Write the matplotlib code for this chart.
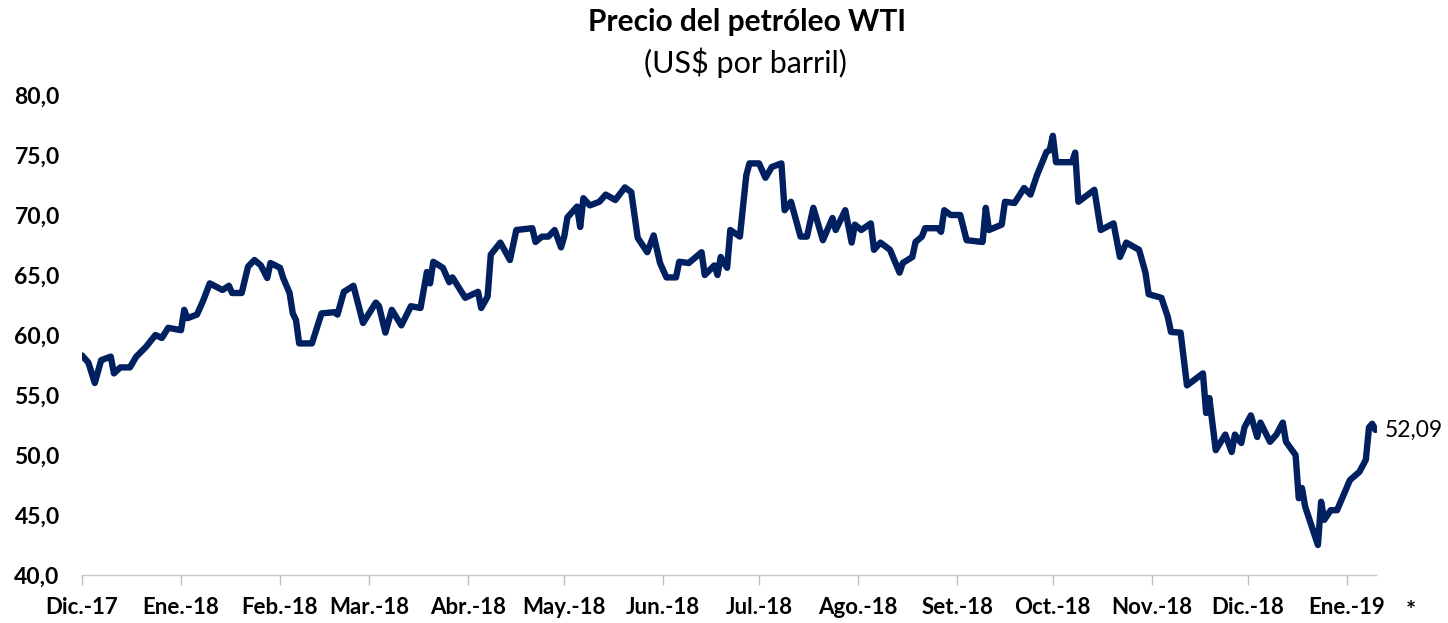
import numpy as np
import pandas as pd
import matplotlib
matplotlib.use("Agg")
import matplotlib.pyplot as plt
import matplotlib.dates as mdates

# Precio WTI (US$ por barril)
fechas = ["2017-12-01", "2017-12-03", "2017-12-05", "2017-12-07", "2017-12-10",
          "2017-12-11", "2017-12-13", "2017-12-16", "2017-12-18", "2017-12-21",
          "2017-12-24", "2017-12-26", "2017-12-28", "2018-01-01", "2018-01-02",
          "2018-01-03", "2018-01-06", "2018-01-08", "2018-01-10", "2018-01-14",
          "2018-01-16", "2018-01-17", "2018-01-20", "2018-01-22", "2018-01-24",
          "2018-01-26", "2018-01-28", "2018-01-29", "2018-02-01", "2018-02-02",
          "2018-02-04", "2018-02-05", "2018-02-06", "2018-02-07", "2018-02-11",
          "2018-02-14", "2018-02-18", "2018-02-19", "2018-02-21", "2018-02-24",
          "2018-02-27", "2018-03-03", "2018-03-04", "2018-03-06", "2018-03-08",
          "2018-03-11", "2018-03-14", "2018-03-17", "2018-03-19", "2018-03-20",
          "2018-03-21", "2018-03-24", "2018-03-26", "2018-03-27", "2018-03-31",
          "2018-04-04", "2018-04-05", "2018-04-07", "2018-04-08", "2018-04-11",
          "2018-04-14", "2018-04-16", "2018-04-21", "2018-04-22", "2018-04-24",
          "2018-04-26", "2018-04-28", "2018-04-30", "2018-05-01", "2018-05-02",
          "2018-05-05", "2018-05-06", "2018-05-07", "2018-05-09", "2018-05-12",
          "2018-05-14", "2018-05-17", "2018-05-20", "2018-05-22", "2018-05-24",
          "2018-05-27", "2018-05-29", "2018-05-31", "2018-06-02", "2018-06-05",
          "2018-06-06", "2018-06-09", "2018-06-13", "2018-06-14", "2018-06-17",
          "2018-06-18", "2018-06-19", "2018-06-21", "2018-06-22", "2018-06-25",
          "2018-06-27", "2018-06-28", "2018-07-01", "2018-07-03", "2018-07-05",
          "2018-07-08", "2018-07-09", "2018-07-11", "2018-07-14", "2018-07-16",
          "2018-07-18", "2018-07-21", "2018-07-24", "2018-07-25", "2018-07-28",
          "2018-07-30", "2018-07-31", "2018-08-02", "2018-08-05", "2018-08-06",
          "2018-08-08", "2018-08-11", "2018-08-14", "2018-08-15", "2018-08-18",
          "2018-08-19", "2018-08-21", "2018-08-22", "2018-08-26", "2018-08-27",
          "2018-08-28", "2018-08-30", "2018-09-02", "2018-09-04", "2018-09-09",
          "2018-09-10", "2018-09-11", "2018-09-15", "2018-09-16", "2018-09-19",
          "2018-09-22", "2018-09-24", "2018-09-26", "2018-09-29", "2018-09-30",
          "2018-10-01", "2018-10-02", "2018-10-07", "2018-10-08", "2018-10-09",
          "2018-10-12", "2018-10-14", "2018-10-16", "2018-10-20", "2018-10-22",
          "2018-10-24", "2018-10-28", "2018-10-30", "2018-10-31", "2018-11-04",
          "2018-11-06", "2018-11-07", "2018-11-10", "2018-11-12", "2018-11-17",
          "2018-11-18", "2018-11-19", "2018-11-21", "2018-11-24", "2018-11-26",
          "2018-11-27", "2018-11-29", "2018-11-30", "2018-12-02", "2018-12-04",
          "2018-12-05", "2018-12-08", "2018-12-10", "2018-12-12", "2018-12-13",
          "2018-12-16", "2018-12-17", "2018-12-18", "2018-12-19", "2018-12-23",
          "2018-12-24", "2018-12-25", "2018-12-27", "2018-12-29", "2019-01-02",
          "2019-01-05", "2019-01-07", "2019-01-08", "2019-01-09", "2019-01-10"]

precios = [58.3, 57.7, 56.0, 57.9, 58.2,
           56.8, 57.3, 57.3, 58.2, 59.0,
           60.0, 59.75, 60.6, 60.4, 62.1,
           61.4, 61.7, 62.9, 64.3, 63.75,
           64.1, 63.5, 63.5, 65.7, 66.25,
           65.8, 64.75, 66.0, 65.6, 64.75,
           63.5, 61.8, 61.25, 59.3, 59.3,
           61.8, 61.9, 61.7, 63.6, 64.1,
           61.0, 62.7, 62.4, 60.2, 62.1,
           60.8, 62.4, 62.25, 65.25, 64.3,
           66.1, 65.6, 64.4, 64.8, 63.1,
           63.6, 62.25, 63.2, 66.7, 67.7,
           66.25, 68.75, 68.9, 67.75, 68.2,
           68.2, 68.75, 67.3, 68.2, 69.8,
           70.7, 69.0, 71.4, 70.8, 71.1,
           71.7, 71.25, 72.3, 71.9, 68.1,
           66.9, 68.3, 66.0, 64.8, 64.8,
           66.1, 66.0, 66.9, 65.0, 65.8,
           65.0, 66.5, 65.6, 68.75, 68.2,
           73.3, 74.3, 74.3, 73.1, 74.0,
           74.3, 70.4, 71.1, 68.2, 68.2,
           70.6, 67.9, 69.75, 68.75, 70.4,
           67.7, 69.2, 68.75, 69.3, 67.1,
           67.7, 67.1, 65.2, 66.0, 66.5,
           67.75, 68.2, 68.9, 68.9, 68.6,
           70.4, 70.0, 70.0, 67.9, 67.75,
           70.6, 68.75, 69.2, 71.1, 71.0,
           72.25, 71.7, 73.3, 75.25, 75.4,
           76.6, 74.4, 74.4, 75.2, 71.1,
           71.7, 72.1, 68.75, 69.3, 66.5,
           67.7, 67.1, 65.2, 63.4, 63.1,
           61.5, 60.25, 60.2, 55.8, 56.8,
           53.5, 54.75, 50.4, 51.7, 50.25,
           51.7, 51.0, 52.3, 53.3, 51.5,
           52.7, 51.1, 51.7, 52.7, 51.1,
           50.0, 46.4, 47.25, 45.7, 42.5,
           46.1, 44.6, 45.4, 45.4, 47.9,
           48.6, 49.6, 52.3, 52.6, 52.09]

meses = ["Dic.-17", "Ene.-18", "Feb.-18", "Mar.-18", "Abr.-18", "May.-18",
         "Jun.-18", "Jul.-18", "Ago.-18", "Set.-18", "Oct.-18", "Nov.-18",
         "Dic.-18", "Ene.-19"]
inicio_meses = pd.date_range("2017-12-01", periods=len(meses), freq="MS")

fechas = pd.to_datetime(fechas)
azul = "#002060"
fuente = "Lato"

fig = plt.figure(figsize=(14.48, 6.23), dpi=100)
ax = fig.add_axes([82 / 1448, 1 - 575 / 623, (1377 - 82) / 1448, (575 - 95) / 623])

ax.plot(fechas, precios, color=azul, lw=4.6, solid_joinstyle="round",
        solid_capstyle="round", zorder=3)

# etiqueta del ultimo dato
ax.annotate(("%.2f" % precios[-1]).replace(".", ","), (fechas[-1], precios[-1]),
            xytext=(7, 0), textcoords="offset points", va="center", ha="left",
            fontsize=16.5, family=fuente, color="black", annotation_clip=False)

ax.set_xlim(pd.Timestamp("2017-12-01"), pd.Timestamp("2019-01-10 12:00"))
ax.set_ylim(40, 80)

# eje y
ax.set_yticks(np.arange(40, 81, 5))
ax.set_yticklabels([("%.1f" % v).replace(".", ",") for v in np.arange(40, 81, 5)],
                   fontsize=16.5, fontweight="bold", family=fuente)
ax.tick_params(axis="y", length=0, pad=16)

# eje x
ax.set_xticks(inicio_meses)
ax.set_xticklabels(meses, fontsize=16, fontweight="bold", family=fuente)
ax.tick_params(axis="x", length=7, width=1, color="#bfbfbf", pad=9)

for s in ["left", "right", "top"]:
    ax.spines[s].set_visible(False)
ax.spines["bottom"].set_color("#c8c8c8")
ax.spines["bottom"].set_linestyle((0, (2, 1)))
ax.spines["bottom"].set_linewidth(1)

fig.text(1411 / 1448, 1 - 611 / 623, "*", ha="center", va="center",
         fontsize=17, fontweight="bold", family=fuente)

fig.text(747 / 1448, 1 - 22 / 623, "Precio del petróleo WTI", ha="center",
         va="center", fontsize=21.5, fontweight="bold", family=fuente)
fig.text(745 / 1448, 1 - 63 / 623, "(US$ por barril)", ha="center",
         va="center", fontsize=22, family=fuente)

fig.savefig("out.png", dpi=100)
